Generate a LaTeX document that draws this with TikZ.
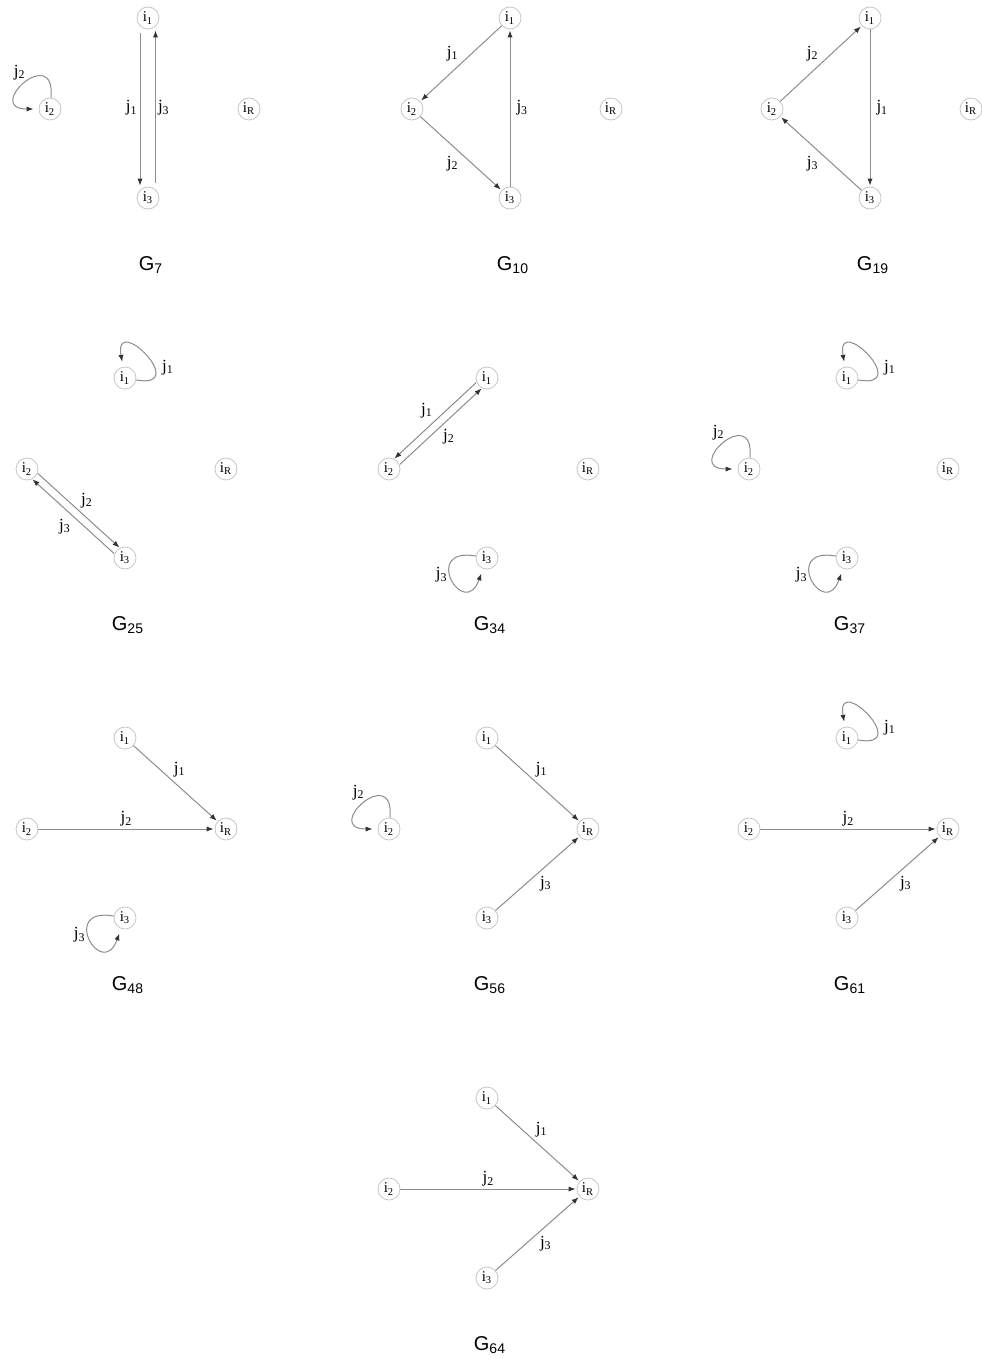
\documentclass[tikz,border=0pt]{standalone}
\usepackage{fontspec}
\setmainfont{Liberation Serif}
\newfontfamily\gfont{Liberation Sans}
\usetikzlibrary{arrows.meta,calc}

\begin{document}
\begin{tikzpicture}[x=0.5pt, y=0.5pt,
    vtx/.style={circle, draw=gray!45, line width=0.4pt, minimum size=11pt,
                inner sep=0pt, font=\fontsize{7.5}{7.5}\selectfont},
    edge/.style={draw=gray!90, line width=0.5pt,
                 -{Latex[length=3.5pt,width=2.6pt,color=black!80]}, shorten >=0.5pt},
    para/.style={edge, shorten <=5.5pt, shorten >=5.5pt},
    selfloop/.style={edge, min distance=28pt, shorten >=2.5pt},
    lab/.style={font=\fontsize{8.5}{8.5}\selectfont, inner sep=1pt},
    gname/.style={font=\gfont\fontsize{10}{12}\selectfont}
]
\useasboundingbox (0,0) rectangle (981,-1359);

% the four vertices and the name of each graph
\foreach \g/\cx/\ry in {7/148/18, 10/510/18, 19/870/18,
                        25/125/378, 34/487/378, 37/847/378,
                        48/125/738, 56/487/738, 61/847/738, 64/487/1098}{
  \node[vtx] (i1-\g) at (\cx,-\ry) {i\textsubscript{1}};
  \node[vtx] (i2-\g) at ({\cx-98},{-\ry-91}) {i\textsubscript{2}};
  \node[vtx] (i3-\g) at (\cx,{-\ry-180}) {i\textsubscript{3}};
  \node[vtx] (iR-\g) at ({\cx+101},{-\ry-91}) {i\textsubscript{R}};
  \node[gname] (G-\g) at ({\cx+3},{-\ry-247}) {G\textsubscript{\g}};
}

% G7
\draw[selfloop] (i2-7) to[out=85,in=180] node[lab,above,xshift=-3pt]{j\textsubscript{2}} (i2-7);
\draw[edge, shorten <=2pt] ([xshift=-4pt]i1-7.south) -- node[lab,left]{j\textsubscript{1}} ([xshift=-4pt]i3-7.north);
\draw[edge, shorten <=2pt] ([xshift=3.75pt]i3-7.north) -- node[lab,right]{j\textsubscript{3}} ([xshift=3.75pt]i1-7.south);

% G10
\draw[edge] (i1-10) -- node[lab,above left]{j\textsubscript{1}} (i2-10);
\draw[edge] (i2-10) -- node[lab,below left]{j\textsubscript{2}} (i3-10);
\draw[edge] (i3-10) -- node[lab,right=2pt]{j\textsubscript{3}} (i1-10);

% G19
\draw[edge] (i2-19) -- node[lab,above left]{j\textsubscript{2}} (i1-19);
\draw[edge] (i1-19) -- node[lab,right=2pt]{j\textsubscript{1}} (i3-19);
\draw[edge] (i3-19) -- node[lab,below left]{j\textsubscript{3}} (i2-19);

% G25
\draw[selfloop] (i1-25) to[out=-10,in=100] node[lab,pos=0.35,right=2.5pt]{j\textsubscript{1}} (i1-25);
\draw[para] ($(i2-25)!2pt!90:(i3-25)$) -- node[lab,above right]{j\textsubscript{2}} ($(i3-25)!2pt!-90:(i2-25)$);
\draw[para] ($(i3-25)!2pt!90:(i2-25)$) -- node[lab,below left]{j\textsubscript{3}} ($(i2-25)!2pt!-90:(i3-25)$);

% G34
\draw[para] ($(i1-34)!2pt!-90:(i2-34)$) -- node[lab,above left]{j\textsubscript{1}} ($(i2-34)!2pt!90:(i1-34)$);
\draw[para] ($(i2-34)!2pt!-90:(i1-34)$) -- node[lab,below right]{j\textsubscript{2}} ($(i1-34)!2pt!90:(i2-34)$);
\draw[selfloop] (i3-34) to[out=170,in=-110] node[lab,pos=0.45,left]{j\textsubscript{3}} (i3-34);

% G37
\draw[selfloop] (i1-37) to[out=-10,in=100] node[lab,pos=0.35,right=2.5pt]{j\textsubscript{1}} (i1-37);
\draw[selfloop] (i2-37) to[out=85,in=180] node[lab,above,xshift=-3pt]{j\textsubscript{2}} (i2-37);
\draw[selfloop] (i3-37) to[out=170,in=-110] node[lab,pos=0.45,left]{j\textsubscript{3}} (i3-37);

% G48
\draw[edge] (i1-48) -- node[lab,pos=0.45,above right]{j\textsubscript{1}} (iR-48);
\draw[edge] (i2-48) -- node[lab,above]{j\textsubscript{2}} (iR-48);
\draw[selfloop] (i3-48) to[out=170,in=-110] node[lab,pos=0.45,left]{j\textsubscript{3}} (i3-48);

% G56
\draw[selfloop] (i2-56) to[out=85,in=180] node[lab,above,xshift=-3pt]{j\textsubscript{2}} (i2-56);
\draw[edge] (i1-56) -- node[lab,pos=0.45,above right]{j\textsubscript{1}} (iR-56);
\draw[edge] (i3-56) -- node[lab,below right]{j\textsubscript{3}} (iR-56);

% G61
\draw[selfloop] (i1-61) to[out=-10,in=100] node[lab,pos=0.35,right=2.5pt]{j\textsubscript{1}} (i1-61);
\draw[edge] (i2-61) -- node[lab,above]{j\textsubscript{2}} (iR-61);
\draw[edge] (i3-61) -- node[lab,below right]{j\textsubscript{3}} (iR-61);

% G64
\draw[edge] (i1-64) -- node[lab,pos=0.45,above right]{j\textsubscript{1}} (iR-64);
\draw[edge] (i2-64) -- node[lab,above]{j\textsubscript{2}} (iR-64);
\draw[edge] (i3-64) -- node[lab,below right]{j\textsubscript{3}} (iR-64);
\end{tikzpicture}
\end{document}
